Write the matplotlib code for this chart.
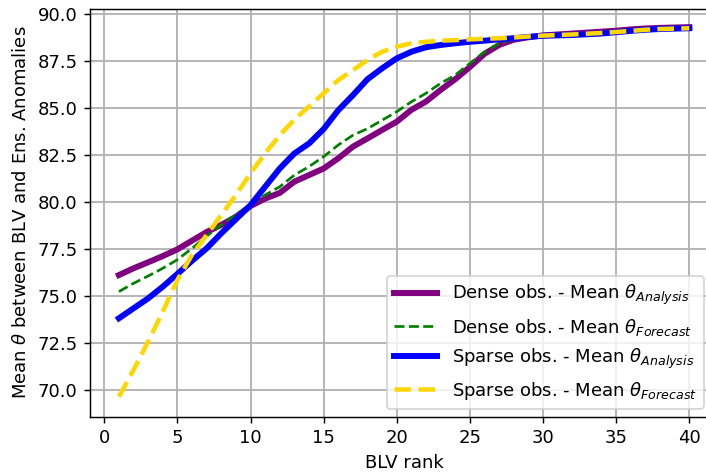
import matplotlib
matplotlib.use("Agg")
import matplotlib.pyplot as plt
import numpy as np

ranks = list(range(1, 41))

dense_analysis = [76.13, 76.49, 76.81, 77.14, 77.50, 77.96, 78.42, 78.80, 79.23, 79.80,
                  80.20, 80.50, 81.10, 81.45, 81.80, 82.34, 82.96, 83.40, 83.85, 84.29,
                  84.92, 85.36, 85.98, 86.55, 87.20, 87.90, 88.37, 88.65, 88.78, 88.88,
                  88.93, 88.98, 89.03, 89.08, 89.13, 89.20, 89.25, 89.28, 89.30, 89.32]

dense_forecast = [75.25, 75.69, 76.08, 76.49, 76.95, 77.55, 78.20, 78.80, 79.35, 79.86,
                  80.39, 80.83, 81.45, 81.90, 82.43, 83.05, 83.57, 83.92, 84.37, 84.82,
                  85.35, 85.80, 86.33, 86.77, 87.39, 88.00, 88.45, 88.70, 88.80, 88.88,
                  88.92, 88.96, 89.01, 89.06, 89.11, 89.18, 89.23, 89.26, 89.28, 89.30]

sparse_analysis = [73.83, 74.36, 74.89, 75.51, 76.19, 76.89, 77.55, 78.35, 79.10, 79.85,
                   80.83, 81.80, 82.60, 83.13, 83.90, 84.90, 85.70, 86.55, 87.13, 87.66,
                   88.01, 88.25, 88.37, 88.46, 88.54, 88.60, 88.67, 88.73, 88.80, 88.86,
                   88.88, 88.90, 88.94, 88.98, 89.05, 89.12, 89.18, 89.22, 89.24, 89.26]

sparse_forecast = [69.66, 71.08, 72.59, 74.18, 75.87, 77.20, 78.26, 79.32, 80.39, 81.54,
                   82.60, 83.57, 84.40, 85.10, 85.80, 86.50, 87.03, 87.57, 88.01, 88.28,
                   88.46, 88.54, 88.60, 88.63, 88.67, 88.70, 88.73, 88.77, 88.82, 88.87,
                   88.90, 88.93, 88.97, 89.01, 89.06, 89.12, 89.18, 89.22, 89.24, 89.26]

labels = [r"Dense obs. - Mean $\theta_{Analysis}$",
          r"Dense obs. - Mean $\theta_{Forecast}$",
          r"Sparse obs. - Mean $\theta_{Analysis}$",
          r"Sparse obs. - Mean $\theta_{Forecast}$"]

xticks = [0, 5, 10, 15, 20, 25, 30, 35, 40]
yticks = [70.0, 72.5, 75.0, 77.5, 80.0, 82.5, 85.0, 87.5, 90.0]

DPI = 130
fig = plt.figure(figsize=(706 / DPI, 473 / DPI), dpi=DPI)
ax = fig.add_axes([0.128, 0.1192, 0.8887, 0.8624])

ax.plot(ranks, dense_analysis, color='purple', lw=3.3, ls='-', label=labels[0])
ax.plot(ranks, dense_forecast, color='green', lw=1.5, ls='--', label=labels[1])
ax.plot(ranks, sparse_analysis, color='blue', lw=3.3, ls='-', label=labels[2])
ax.plot(ranks, sparse_forecast, color='gold', lw=2.5, ls='--', label=labels[3])

ax.set_xlim(-0.95, 41.95)
ax.set_ylim(68.6, 90.3)
ax.set_xticks(xticks)
ax.set_yticks(yticks)
ax.set_yticklabels([f"{v:.1f}" for v in yticks])
ax.grid(True, color='#b0b0b0', lw=1)
ax.set_axisbelow(True)
ax.set_xlabel("BLV rank")
ax.set_ylabel(r"Mean $\theta$ between BLV and Ens. Anomalies")

ax.legend(loc='lower right', bbox_to_anchor=(704/706, 1 - 409/473),
          bbox_transform=fig.transFigure, borderaxespad=0, handlelength=2.4)

fig.savefig("out.png", dpi=DPI)
